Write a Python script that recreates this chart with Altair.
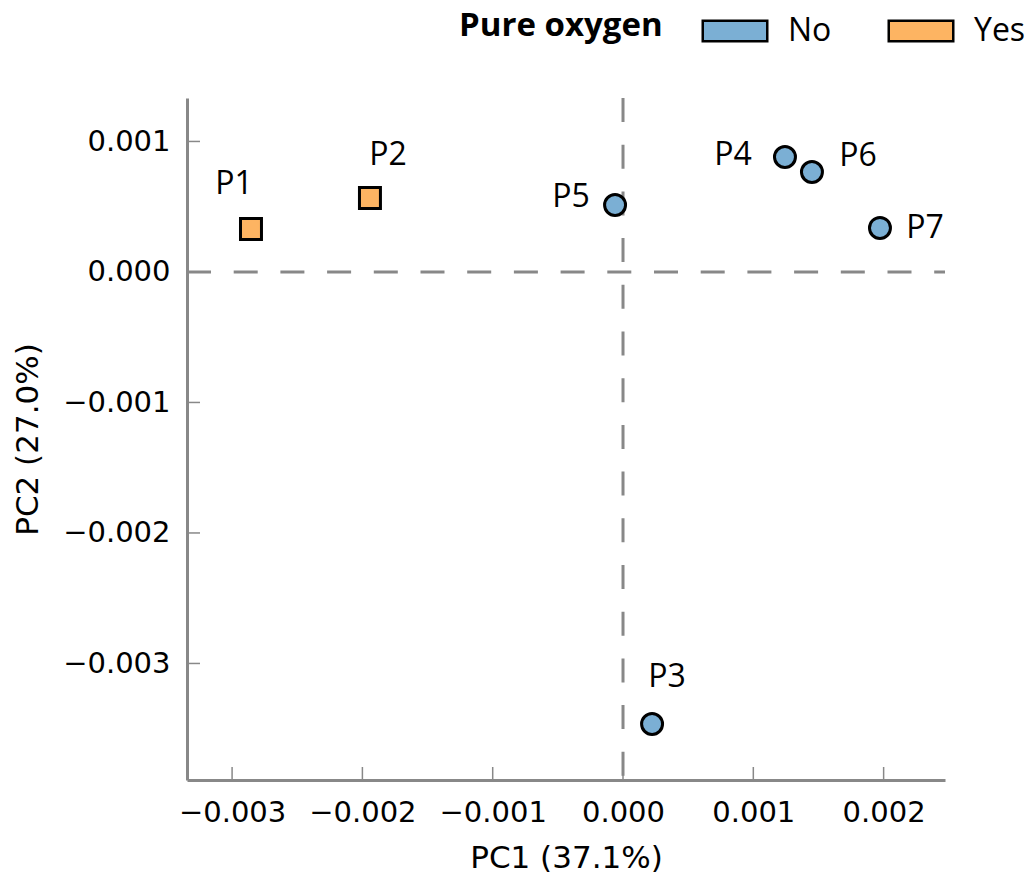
import altair as alt
import pandas as pd

# ---- data ----
samples = ["P1", "P2", "P3", "P4", "P5", "P6", "P7"]
pc1 = [-0.002855, -0.001942, 0.000223, 0.001243, -0.000061, 0.001450, 0.001972]
pc2 = [0.000330, 0.000567, -0.003464, 0.000881, 0.000513, 0.000766, 0.000337]
pure_oxygen = ["Yes", "Yes", "No", "No", "No", "No", "No"]

x_ticks = [-0.003, -0.002, -0.001, 0.000, 0.001, 0.002]
y_ticks = [-0.003, -0.002, -0.001, 0.000, 0.001]
x_domain = [-0.003346, 0.002471]
y_domain = [-0.003893, 0.001333]

groups = ["No", "Yes"]
group_colors = ["#7bafd4", "#fdb462"]
group_shapes = {"No": "circle", "Yes": "square"}

df = pd.DataFrame({"sample": samples, "pc1": pc1, "pc2": pc2, "oxygen": pure_oxygen})
xt = pd.DataFrame({"v": x_ticks})
yt = pd.DataFrame({"v": y_ticks})
zero = pd.DataFrame({"v": [0.0]})

W, H = 758, 682
GREY = "#888888"
# wide legend swatch, drawn a little wider than its layout box
SWATCH = "M-1.265,-0.4H1.265V0.4H-1.265Z"
SWATCH_SIZE = 2601

xscale = alt.Scale(domain=x_domain, nice=False, zero=False)
yscale = alt.Scale(domain=y_domain, nice=False, zero=False)
cscale = alt.Scale(domain=groups, range=group_colors)

x_axis = alt.Axis(
    values=x_ticks, format=".3f", title="PC1 (37.1%)", grid=False, ticks=False,
    domainColor=GREY, domainWidth=3, labelFont="DejaVu Sans", labelFontSize=29,
    labelColor="black", labelPadding=18, labelBaseline="top",
    titleFont="DejaVu Sans", titleFontSize=31, titleFontWeight="normal",
    titleColor="black", titleY=78, titleBaseline="middle",
)
y_axis = alt.Axis(
    values=y_ticks, format=".3f", title="PC2 (27.0%)", grid=False, ticks=False,
    domainColor=GREY, domainWidth=3, labelFont="DejaVu Sans", labelFontSize=29,
    labelColor="black", labelPadding=17,
    titleFont="DejaVu Sans", titleFontSize=31, titleFontWeight="normal",
    titleColor="black", titleX=-159, titleY=H / 2, titleAngle=270,
    titleBaseline="middle", titleAlign="center",
)

# dashed zero lines
vline = alt.Chart(zero).mark_rule(color=GREY, strokeWidth=3, strokeDash=[24, 22.7]).encode(
    x=alt.X("v:Q", scale=xscale, axis=x_axis), y=alt.value(0), y2=alt.value(H)
)
hline = alt.Chart(zero).mark_rule(color=GREY, strokeWidth=3, strokeDash=[24, 22.7]).encode(
    y=alt.Y("v:Q", scale=yscale, axis=y_axis), x=alt.value(0), x2=alt.value(W)
)

# inward ticks
xtick_marks = alt.Chart(xt).mark_rule(color=GREY, strokeWidth=1.5).encode(
    x=alt.X("v:Q", scale=xscale), y=alt.value(H), y2=alt.value(H - 13)
)
ytick_marks = alt.Chart(yt).mark_rule(color=GREY, strokeWidth=1.5).encode(
    y=alt.Y("v:Q", scale=yscale), x=alt.value(0), x2=alt.value(13)
)

# legend carrier layer (draws nothing, only provides the swatch legend)
legend_layer = alt.Chart(df).transform_filter("false").mark_point(
    shape=SWATCH, filled=True, size=SWATCH_SIZE, stroke="black", strokeWidth=2.5, opacity=1
).encode(
    x=alt.X("pc1:Q", scale=xscale),
    y=alt.Y("pc2:Q", scale=yscale),
    color=alt.Color("oxygen:N", scale=cscale, legend=alt.Legend(title="Pure oxygen")),
)

point_layers = []
for grp in groups:
    point_layers.append(
        alt.Chart(df).transform_filter(alt.datum.oxygen == grp).mark_point(
            shape=group_shapes[grp], filled=True, stroke="black", strokeWidth=3,
            size=440, opacity=1,
        ).encode(
            x=alt.X("pc1:Q", scale=xscale),
            y=alt.Y("pc2:Q", scale=yscale),
            color=alt.Color("oxygen:N", scale=cscale, legend=None),
        )
    )

label_offsets = {
    "P1": (-17, -45), "P2": (18, -43), "P3": (15, -47), "P4": (-52, -2),
    "P5": (-44, -8), "P6": (46, -16), "P7": (45, 0),
}
labels = []
for name, (dx, dy) in label_offsets.items():
    labels.append(
        alt.Chart(df).transform_filter(alt.datum.sample == name).mark_text(
            font="Open Sans", fontSize=32, color="black", align="center",
            baseline="middle", dx=dx, dy=dy,
        ).encode(
            x=alt.X("pc1:Q", scale=xscale),
            y=alt.Y("pc2:Q", scale=yscale),
            text="sample:N",
        )
    )

chart = alt.layer(vline, hline, xtick_marks, ytick_marks, legend_layer,
                  *point_layers, *labels).properties(
    width=W, height=H,
    autosize=alt.AutoSizeParams(type="none"),
    padding={"left": 179, "top": 90, "right": 81, "bottom": 99},
).configure_view(strokeOpacity=0).configure_legend(
    orient="none", legendX=272, legendY=-94, direction="horizontal",
    titleOrient="left", titleFont="Open Sans", titleFontSize=33,
    titleFontWeight="bold", titleColor="black", titlePadding=45, titleLimit=400,
    labelFont="Open Sans", labelFontSize=32, labelColor="black", labelOffset=26,
    columnPadding=51, padding=0,
    symbolType=SWATCH, symbolSize=SWATCH_SIZE, symbolStrokeColor="black",
    symbolStrokeWidth=2.5, symbolOpacity=1,
)

chart.save("out.html", embed_options={"renderer": "svg", "actions": False})
